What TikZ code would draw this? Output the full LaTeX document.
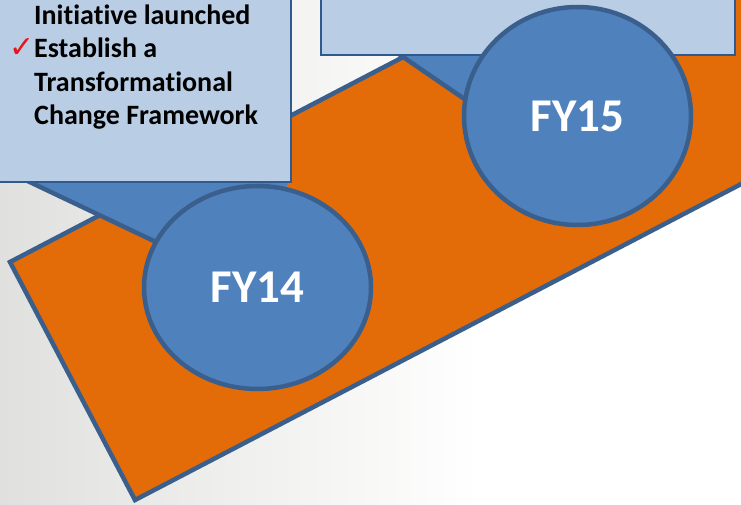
\documentclass[tikz,border=0pt]{standalone}
\usepackage{fontspec}
\setmainfont{Carlito}[Ligatures=NoCommon]
\newfontfamily\symfont{DejaVu Sans}
\usetikzlibrary{shapes.geometric}
\definecolor{bgL}{HTML}{E0E0DE}
\definecolor{orangeF}{HTML}{E36C09}
\definecolor{blueF}{HTML}{4F81BD}
\definecolor{blueD}{HTML}{3A5F8C}
\definecolor{boxF}{HTML}{B9CDE5}
\definecolor{boxD}{HTML}{2F5A8E}
\definecolor{checkR}{HTML}{E8141B}
\tikzset{
  band/.style={fill=orangeF, draw=blueD, line width=4.5pt},
  wedgefill/.style={fill=blueF},
  wedgeedge/.style={draw=blueD, line width=4.5pt},
  infobox/.style={fill=boxF, draw=boxD, line width=2pt},
  yr/.style={ellipse, fill=blueF, draw=blueD, line width=4.5pt, inner sep=0pt,
    minimum width=227pt, text=white, font=\fontsize{47}{56}\selectfont\bfseries},
  txt/.style={anchor=base west, inner sep=0pt, font=\fontsize{28}{34}\selectfont\bfseries},
  chk/.style={anchor=base west, inner sep=0pt, text=checkR, font=\symfont\fontsize{30}{34}\selectfont\bfseries}
}
\begin{document}
\begin{tikzpicture}[x=1pt,y=-1pt]
\useasboundingbox (0,0) rectangle (741,505);
\clip (0,0) rectangle (741,505);
% background
\fill[white] (0,0) rectangle (741,505);
\fill[left color=bgL, right color=white] (0,0) rectangle (480,505);
% orange band
\draw[band] (10,262) -- (135,500) -- (933,84) -- (808,-154) -- cycle;
% wedges
\fill[wedgefill] (15,175) -- (290,175) -- (257,290) -- cycle;
\draw[wedgeedge] (15,175) -- (257,290);
\fill[wedgefill] (390,48) -- (640,48) -- (498,122) -- cycle;
\draw[wedgeedge] (390,48) -- (498,122);
% boxes
\draw[infobox] (-5,-5) rectangle (291,182);
\draw[infobox] (321,-5) rectangle (735,55);
% box text
\node[txt] (l1) at (34,25) {Initiative launched};
\node[chk] (ck) at (9,58) {✓};
\node[txt] (l2) at (34,58) {Establish a};
\node[txt] (l3) at (34,92) {Transformational};
\node[txt] (l4) at (34,125) {Change Framework};
% year ellipses
\node[yr, minimum height=203pt] (fy14) at (257.5,287.5) {FY14};
\node[yr, minimum height=218pt] (fy15) at (577.5,116) {FY15};
\end{tikzpicture}
\end{document}
